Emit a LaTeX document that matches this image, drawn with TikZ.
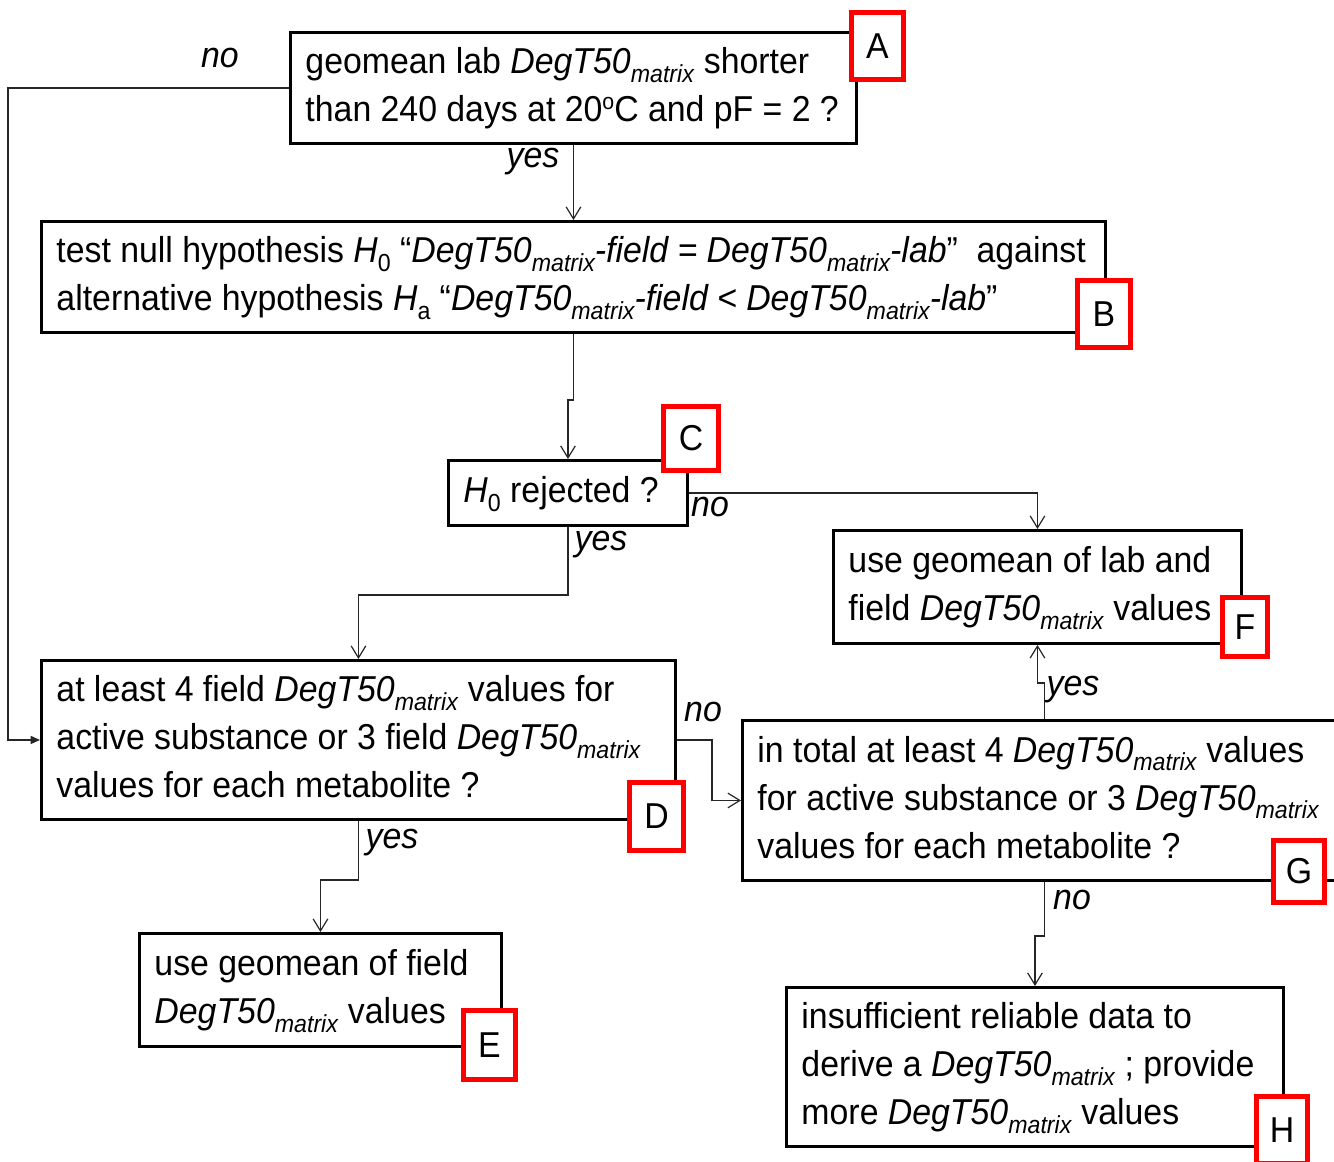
\documentclass[tikz,border=0pt]{standalone}
\usepackage{fontspec}
\setmainfont{Liberation Sans}[FakeStretch=0.94]
\usetikzlibrary{arrows.meta}
\newcommand\lsub[1]{\raisebox{-6.5pt}{\fontsize{18.5pt}{18.5pt}\selectfont #1}}
\newcommand\dgt{\textit{DegT50}\lsub{\textit{matrix}}}
\newcommand\lines[1]{{\spaceskip=7pt\relax\begin{tabular}{@{}l@{}}#1\end{tabular}}}
\tikzset{
  box/.style={draw, line width=2.2pt, anchor=north west, inner xsep=11.25pt, inner ysep=0pt, align=left},
  tag/.style={draw=red, line width=3.75pt, fill=white, inner sep=0pt, font=\fontsize{27pt}{30pt}\selectfont},
  conn/.style={line width=1pt, draw=black!85},
  arr/.style={conn, -{Straight Barb[length=9pt,width=11pt,line width=0.9pt]}},
  farr/.style={conn, -{Triangle[length=7pt,width=6pt]}},
  lbl/.style={font=\fontsize{27pt}{30pt}\selectfont\itshape, inner sep=0pt}
}
\begin{document}
\begin{tikzpicture}[x=0.75pt,y=-0.75pt, font=\fontsize{27pt}{36pt}\selectfont]
\useasboundingbox (0,0) rectangle (1334,1162);
% boxes
\node[box, minimum width=424.5pt, minimum height=83.25pt, text width=402pt] (A) at (289,31)
  {\lines{geomean lab \dgt{} shorter\\than 240 days at 20\raisebox{9pt}{\fontsize{17pt}{17pt}\selectfont o}C and pF = 2 ?}};
\node[box, minimum width=798pt, minimum height=83.25pt, text width=775.5pt] (B) at (40,220)
  {\lines{test null hypothesis \textit{H}\lsub{0} “\textit{\dgt-field = \dgt-lab}”~~against\\alternative hypothesis \textit{H}\lsub{a} “\textit{\dgt-field < \dgt-lab}”}};
\node[box, minimum width=179.25pt, minimum height=48.75pt, text width=156.75pt] (C) at (447,459)
  {\lines{\textit{H}\lsub{0} rejected ?}};
\node[box, minimum width=475.5pt, minimum height=119.25pt, text width=453pt] (D) at (40,659)
  {\lines{at least 4 field \dgt{} values for\\active substance or 3 field \dgt\\values for each metabolite ?}};
\node[box, minimum width=271.5pt, minimum height=84.75pt, text width=249pt] (E) at (138,932)
  {\lines{use geomean of field\\\dgt{} values}};
\node[box, minimum width=306pt, minimum height=84.75pt, text width=283.5pt] (F) at (832,529)
  {\lines{use geomean of lab and\\field \dgt{} values}};
\node[box, minimum width=453pt, minimum height=120pt, text width=430.5pt] (G) at (741,719)
  {\lines{in total at least 4 \dgt{} values\\for active substance or 3 \dgt\\values for each metabolite ?}};
\node[box, minimum width=372.75pt, minimum height=119.25pt, text width=350.25pt] (H) at (785,986)
  {\lines{insufficient reliable data to\\derive a \dgt{} ; provide\\more \dgt{} values}};
% connectors
\coordinate (L) at (8,0);
\draw[farr] (A.west) -- (A.west -| L) -- (L |- D.west) -- (D.west);
\draw[arr] (A.south) -- (A.south |- B.north);
\draw[arr] (B.south) -- ++(0,66) -| (C.north);
\draw[arr] (C.east) -| (F.north);
\draw[arr] (C.south) -- ++(0,68) -| (D.north);
\draw[arr] (D.east) -- ++(35,0) |- (G.west);
\draw[arr] (D.south) -- ++(0,59) -| (E.north);
\draw[arr] (G.north) -- ++(0,-36) -| (F.south);
\draw[arr] (G.south) -- ++(0,54) -| (H.north);
% connector labels
\node[lbl] (n1) at (220,58) {no};
\node[lbl] (y1) at (533,162) {yes};
\node[lbl] (n2) at (710,507) {no};
\node[lbl] (y2) at (601,545) {yes};
\node[lbl] (n3) at (703,712) {no};
\node[lbl] (y3) at (392,843) {yes};
\node[lbl] (y4) at (1073,690) {yes};
\node[lbl] (n4) at (1072,900) {no};
% tags
\node[tag, minimum width=39pt, minimum height=50.25pt] (tA) at (877.5,46) {A};
\node[tag, minimum width=39.75pt, minimum height=50.25pt] (tB) at (1104,314) {B};
\node[tag, minimum width=41.25pt, minimum height=48pt] (tC) at (691,438.5) {C};
\node[tag, minimum width=40.5pt, minimum height=51pt] (tD) at (656.5,816.5) {D};
\node[tag, minimum width=39pt, minimum height=51.75pt] (tE) at (489.5,1045) {E};
\node[tag, minimum width=33.75pt, minimum height=44.25pt] (tF) at (1245,627) {F};
\node[tag, minimum width=38.25pt, minimum height=46.5pt] (tG) at (1299,871.5) {G};
\node[tag, minimum width=38.25pt, minimum height=50.25pt] (tH) at (1282,1130) {H};
\end{tikzpicture}
\end{document}
